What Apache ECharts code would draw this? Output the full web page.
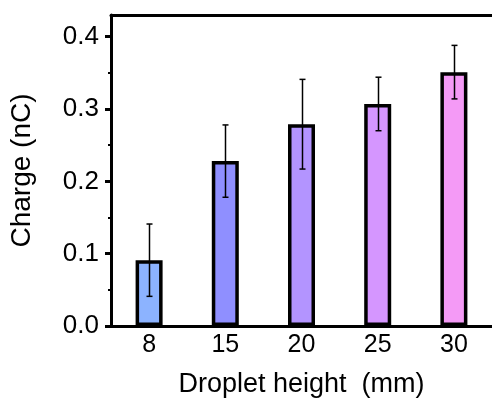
<!DOCTYPE html>
<html lang="en">
<head>
    <meta charset="UTF-8">
    <title>Charge vs droplet height</title>
    <script src="https://cdn.jsdelivr.net/npm/echarts@6/dist/echarts.min.js"></script>
    <style>
        html, body { margin: 0; padding: 0; background: #fff; }
        #chart { width: 492px; height: 405px; }
    </style>
</head>
<body>
    <div id="chart"></div>
    <script>
        const heights = ['8', '15', '20', '25', '30'];
        const charge = [0.091, 0.228, 0.279, 0.307, 0.351];
        const chargeErr = [0.050, 0.050, 0.062, 0.037, 0.037];
        const barColors = ['#8cb3ff', '#8f8fff', '#b394ff', '#d596ff', '#f49af6'];
        const yTicks = [0, 0.1, 0.2, 0.3, 0.4];

        const font = 'Liberation Sans, Arial, sans-serif';
        const chart = echarts.init(document.getElementById('chart'));

        chart.setOption({
            animation: false,
            grid: { left: 110, top: 15, right: -3, bottom: 79 },
            xAxis: [
                {
                    type: 'category',
                    data: heights,
                    name: 'Droplet height  (mm)',
                    nameLocation: 'middle',
                    nameGap: 45,
                    nameTextStyle: { fontFamily: font, fontSize: 27, color: '#000' },
                    axisLine: { lineStyle: { color: '#000', width: 3 } },
                    axisTick: { alignWithLabel: true, length: 6, lineStyle: { color: '#000', width: 3 } },
                    axisLabel: { fontFamily: font, fontSize: 25, color: '#000', margin: 7 }
                },
                {
                    // band boundaries: small minor ticks between categories
                    type: 'category',
                    data: heights,
                    position: 'bottom',
                    axisLine: { show: false },
                    axisTick: { length: 2, lineStyle: { color: '#000', width: 2 } },
                    axisLabel: { show: false }
                },
                {
                    // top frame line
                    type: 'category',
                    data: heights,
                    position: 'top',
                    axisLine: { lineStyle: { color: '#000', width: 3 } },
                    axisTick: { show: false },
                    axisLabel: { show: false }
                }
            ],
            yAxis: {
                type: 'value',
                min: 0,
                max: 0.43,
                interval: 0.1,
                name: 'Charge (nC)',
                nameLocation: 'middle',
                nameGap: 75,
                nameTextStyle: { fontFamily: font, fontSize: 28, color: '#000' },
                axisLine: { show: true, lineStyle: { color: '#000', width: 3 } },
                axisTick: { show: true, length: 6, customValues: yTicks, lineStyle: { color: '#000', width: 3 } },
                minorTick: { show: true, splitNumber: 2, length: 3, lineStyle: { color: '#000', width: 2 } },
                splitLine: { show: false },
                axisLabel: {
                    fontFamily: font, fontSize: 26, color: '#000', margin: 12,
                    customValues: yTicks,
                    formatter: v => v.toFixed(1)
                }
            },
            series: [
                {
                    type: 'bar',
                    data: charge.map((v, i) => ({ value: v, itemStyle: { color: barColors[i] } })),
                    barWidth: 27,
                    itemStyle: { borderColor: '#000', borderWidth: 3.5 }
                },
                {
                    type: 'custom',
                    data: charge.map((v, i) => [i, v - chargeErr[i], v + chargeErr[i]]),
                    z: 10,
                    renderItem: (params, api) => {
                        const lo = api.coord([api.value(0), api.value(1)]);
                        const hi = api.coord([api.value(0), api.value(2)]);
                        const x = Math.round(hi[0]) + 0.5;
                        const cap = 3;
                        const style = { stroke: '#000', lineWidth: 1.5 };
                        return {
                            type: 'group',
                            children: [
                                { type: 'line', shape: { x1: x, y1: hi[1], x2: x, y2: lo[1] }, style },
                                { type: 'line', shape: { x1: x - cap, y1: hi[1], x2: x + cap, y2: hi[1] }, style },
                                { type: 'line', shape: { x1: x - cap, y1: lo[1], x2: x + cap, y2: lo[1] }, style }
                            ]
                        };
                    }
                }
            ]
        });
    </script>
</body>
</html>
